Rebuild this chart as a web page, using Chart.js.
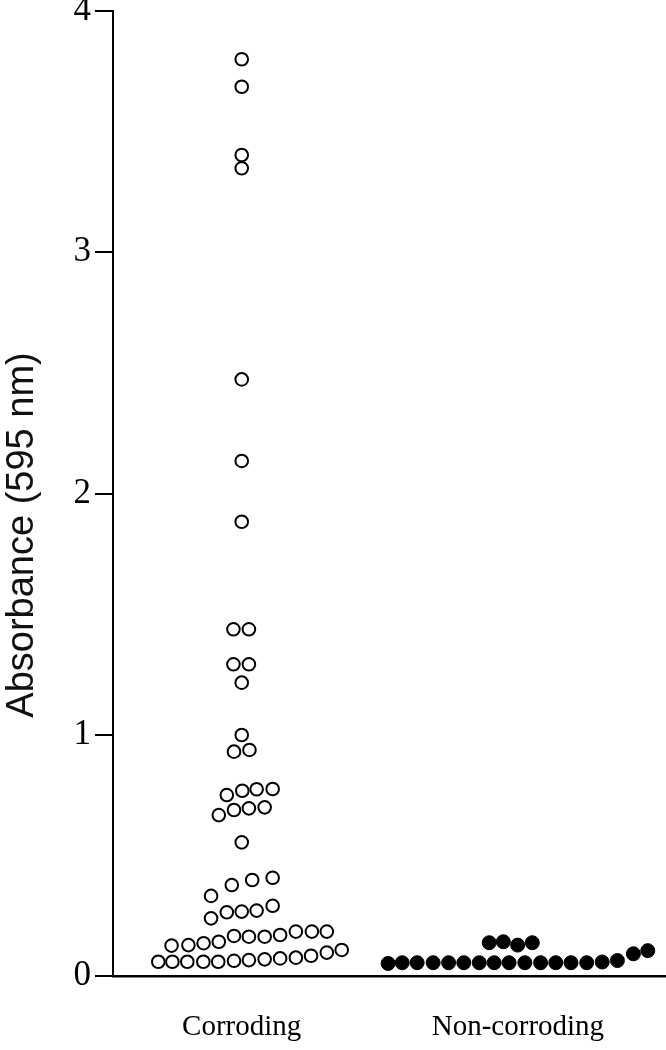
<!DOCTYPE html>
<html>
<head>
<meta charset="utf-8">
<script src="https://cdn.jsdelivr.net/npm/chart.js@4/dist/chart.umd.min.js"></script>
<style>
  html, body { margin: 0; padding: 0; background: #fff; }
  #wrap { width: 666px; height: 1050px; position: relative; }
</style>
</head>
<body>
<div id="wrap"><canvas id="c"></canvas></div>
<script>
// ---- data ----
const categories = ["Corroding", "Non-corroding"];
const yTicks = [0, 1, 2, 3, 4];
const yTitle = "Absorbance (595 nm)";

// Corroding group: absorbance values and horizontal spread (category units)
const corrodingValues = [
  3.80, 3.686, 3.403, 3.348,
  2.473, 2.135, 1.883,
  1.437, 1.437, 1.292, 1.292, 1.216, 0.999, 0.93, 0.937,
  0.750, 0.768, 0.774, 0.775,
  0.667, 0.688, 0.695, 0.699,
  0.554,
  0.332, 0.377, 0.398, 0.407,
  0.239, 0.264, 0.267, 0.271, 0.291,
  0.126, 0.128, 0.136, 0.142, 0.166, 0.163, 0.163, 0.170, 0.184, 0.184, 0.184,
  0.059, 0.059, 0.059, 0.059, 0.059, 0.063, 0.066, 0.069, 0.073, 0.076, 0.084, 0.097, 0.108
];
const corrodingSpread = [
  0, 0, 0, 0,
  0, 0, 0,
  -0.030, 0.026, -0.030, 0.026, 0, 0, -0.028, 0.028,
  -0.054, 0.002, 0.054, 0.112,
  -0.083, -0.028, 0.026, 0.083,
  0,
  -0.111, -0.036, 0.038, 0.112,
  -0.111, -0.054, 0, 0.054, 0.112,
  -0.254, -0.193, -0.138, -0.083, -0.028, 0.026, 0.083, 0.139, 0.196, 0.254, 0.308,
  -0.302, -0.251, -0.197, -0.139, -0.085, -0.028, 0.026, 0.083, 0.139, 0.196, 0.251, 0.308, 0.362
];

// Non-corroding group
const nonCorrodingValues = [
  0.138, 0.142, 0.128, 0.138,
  0.052, 0.055, 0.055, 0.055, 0.055, 0.055, 0.055, 0.055, 0.055, 0.055, 0.055, 0.055, 0.055, 0.055, 0.058, 0.064, 0.092, 0.105
];
const nonCorrodingSpread = [
  -0.104, -0.053, -0.001, 0.052,
  -0.470, -0.419, -0.365, -0.307, -0.251, -0.196, -0.140, -0.086, -0.032, 0.025, 0.082, 0.137, 0.192, 0.249, 0.305, 0.360, 0.418, 0.470
];

function toPoints(values, spread, catIndex) {
  return values.map((v, i) => ({ x: catIndex + 1 + spread[i], y: v }));
}

const yTitlePlugin = {
  id: 'yTitlePlugin',
  afterDraw(chart) {
    const ctx = chart.ctx;
    ctx.save();
    ctx.translate(33, 535);
    ctx.rotate(-Math.PI / 2);
    ctx.font = '38px "Liberation Sans", Arial, sans-serif';
    ctx.fillStyle = '#111';
    ctx.textAlign = 'center';
    ctx.textBaseline = 'alphabetic';
    ctx.fillText(yTitle, 0, 0);
    ctx.restore();
  }
};

new Chart(document.getElementById('c'), {
  type: 'scatter',
  data: {
    datasets: [
      {
        label: categories[0],
        data: toPoints(corrodingValues, corrodingSpread, 0),
        pointRadius: 6.3,
        pointBorderWidth: 2,
        pointBackgroundColor: '#fff',
        pointBorderColor: '#000',
        pointHoverRadius: 6.3
      },
      {
        label: categories[1],
        data: toPoints(nonCorrodingValues, nonCorrodingSpread, 1),
        pointRadius: 7,
        pointBorderWidth: 1,
        pointBackgroundColor: '#000',
        pointBorderColor: '#000',
        pointHoverRadius: 7
      }
    ]
  },
  options: {
    responsive: true,
    maintainAspectRatio: false,
    animation: false,
    layout: { autoPadding: false, padding: { top: 11, right: 0, bottom: 0, left: 0 } },
    plugins: {
      legend: { display: false },
      tooltip: { enabled: false },
      title: { display: false }
    },
    scales: {
      x: {
        type: 'linear',
        min: 0.534,
        max: 2.536,
        afterBuildTicks(s) { s.ticks = categories.map((c, i) => ({ value: i + 1 })); },
        afterFit(s) { s.height = 74; s.paddingLeft = 0; s.paddingRight = 0; },
        grid: { display: false, drawTicks: false },
        border: { display: true, color: '#000', width: 2.5 },
        ticks: {
          autoSkip: false,
          maxRotation: 0,
          padding: 34,
          color: '#000',
          font: { family: '"Liberation Serif", "Times New Roman", serif', size: 29 },
          callback(v) { return categories[Math.round(v) - 1] || ''; }
        }
      },
      y: {
        min: 0,
        max: 4,
        afterBuildTicks(s) { s.ticks = yTicks.map(v => ({ value: v })); },
        afterFit(s) { s.width = 113; s.paddingTop = 0; s.paddingBottom = 0; },
        grid: {
          display: true,
          drawOnChartArea: false,
          drawTicks: true,
          tickLength: 18,
          color: '#000',
          lineWidth: 2
        },
        border: { display: true, color: '#000', width: 2 },
        ticks: {
          padding: 4,
          color: '#000',
          font: { family: '"Liberation Serif", "Times New Roman", serif', size: 35 },
          callback(v) { return String(v); }
        }
      }
    }
  },
  plugins: [yTitlePlugin]
});
</script>
</body>
</html>
